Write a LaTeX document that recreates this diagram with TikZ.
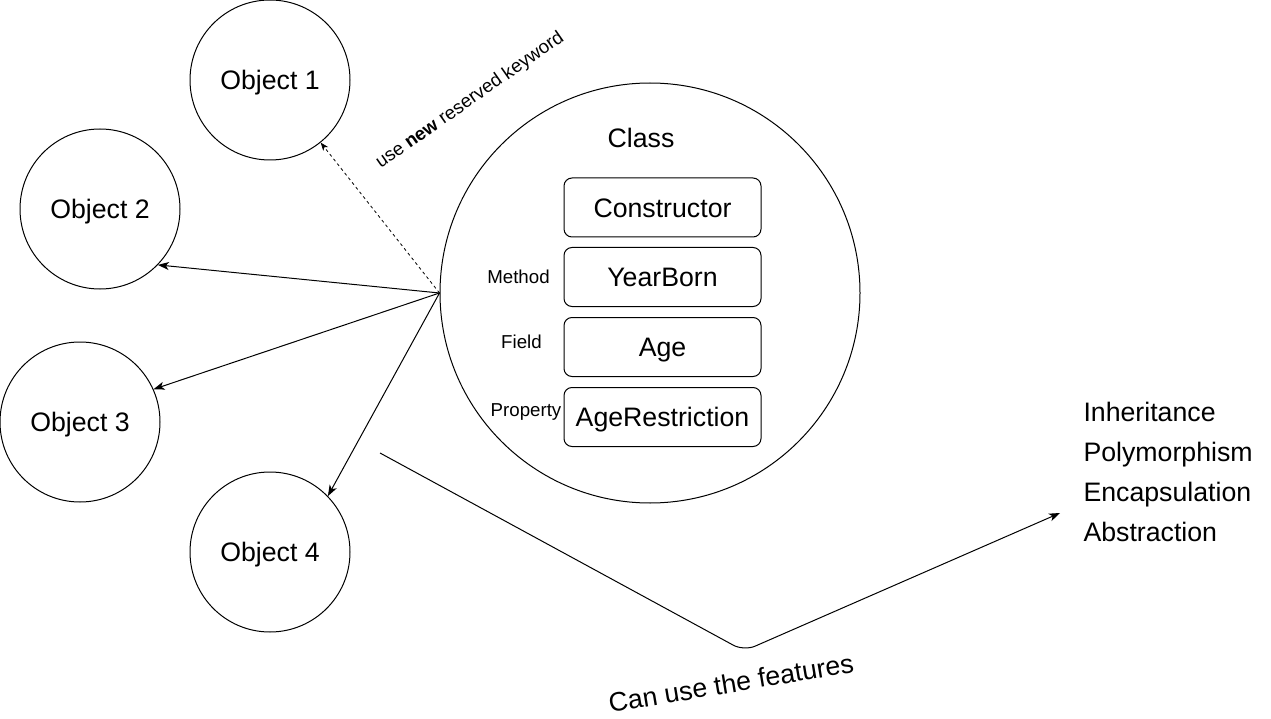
\documentclass[tikz,border=0pt]{standalone}
\usepackage{fontspec}
\setmainfont{Liberation Sans}
\usetikzlibrary{arrows.meta}
\begin{document}
\begin{tikzpicture}[x=1pt,y=-1pt,line width=1pt,
  big/.style={font=\fontsize{26.7}{30}\selectfont},
  small/.style={font=\fontsize{18.7}{22}\selectfont},
  bigc/.style={big,text height=19.2pt,text depth=0pt,inner sep=0pt},
  smallc/.style={small,text height=13.4pt,text depth=0pt,inner sep=0pt},
  obj/.style={draw,circle,minimum size=160pt,bigc},
  member/.style={draw,rectangle,rounded corners=8pt,minimum width=197pt,minimum height=59pt,bigc},
  arr/.style={-{Stealth[length=11pt,width=8pt,inset=3pt]}},
  darr/.style={-{Stealth[length=8pt,width=6pt,inset=2pt]},dashed,dash pattern=on 3pt off 3pt,line width=0.8pt}]
\useasboundingbox (0,0) rectangle (1271,719);
\node[obj] (o1) at (270,80) {Object 1};
\node[obj] (o2) at (100,209) {Object 2};
\node[obj] (o3) at (80,422) {Object 3};
\node[obj] (o4) at (270,552) {Object 4};
\node[draw,circle,minimum size=420pt,inner sep=0pt] (cls) at (650,293) {};
\node[bigc] (clslbl) at (641,138) {Class};
\node[member] (ctor) at (662.5,207.5) {Constructor};
\node[member] (yb) at (662.5,277) {YearBorn};
\node[member] (age) at (662.5,347) {Age};
\node[member] (ager) at (662.5,417) {AgeRestriction};
\node[smallc] (lm) at (518.5,277) {Method};
\node[smallc] (lf) at (521.5,342) {Field};
\node[smallc] (lp) at (526,410) {Property};
\draw[darr] (cls.west) -- (o1.-51);
\draw[arr] (cls.west) -- (o2.-44);
\draw[arr] (cls.west) -- (o3.24);
\draw[arr] (cls.west) -- (o4.44.5);
\node[smallc,rotate=35] (kw) at (469,99) {use \textbf{new} reserved keyword};
\coordinate (fs) at (380,453);
\coordinate (fc) at (744,651);
\coordinate (fe) at (1060,513);
\draw[arr,rounded corners=12pt] (fs) -- (fc) -- (fe);
\node[bigc,rotate=9.5] (canuse) at (731,683) {Can use the features};
\node[big,anchor=base west,inner sep=0pt] (f1) at (1083,421) {Inheritance};
\node[big,anchor=base west,inner sep=0pt] (f2) at (1083,461) {Polymorphism};
\node[big,anchor=base west,inner sep=0pt] (f3) at (1083,501) {Encapsulation};
\node[big,anchor=base west,inner sep=0pt] (f4) at (1083,541) {Abstraction};
\end{tikzpicture}
\end{document}
